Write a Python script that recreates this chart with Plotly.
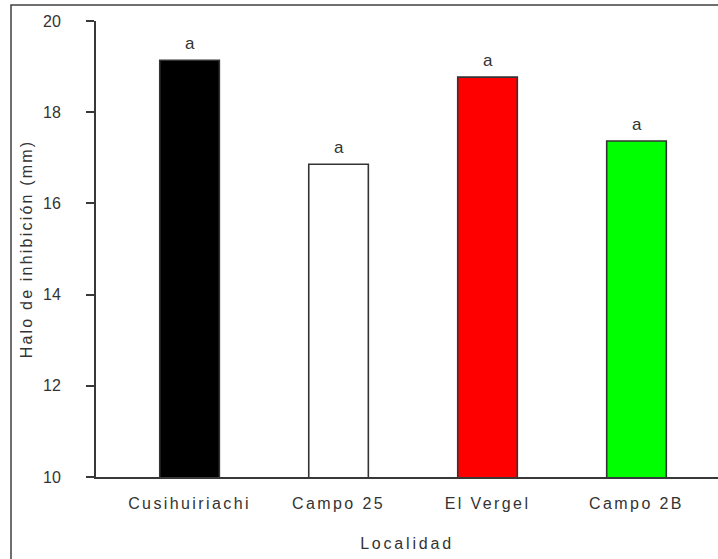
import plotly.graph_objects as go

# Inhibition halo by locality
localidades = ["Cusihuiriachi", "Campo 25", "El Vergel", "Campo 2B"]
halo_mm = [19.14, 16.86, 18.77, 17.37]
letras = ["a", "a", "a", "a"]
colores = ["#000000", "#ffffff", "#ff0000", "#00ff00"]

W, H = 718, 559
M_L, M_R, M_T, M_B = 96, 0, 21, 82
FONT = "Liberation Sans, Arial, sans-serif"
INK = "#333333"

fig = go.Figure(
    go.Bar(
        x=localidades,
        y=halo_mm,
        width=0.4,
        marker=dict(color=colores, line=dict(color="#333333", width=1.6)),
        hoverinfo="x+y",
    )
)

for loc, val, txt in zip(localidades, halo_mm, letras):
    fig.add_annotation(
        x=loc, y=val, text=txt, showarrow=False,
        yanchor="bottom", yshift=5,
        font=dict(family=FONT, size=17, color=INK),
    )

# Outer frame (left and top edges visible within the page)
pw, ph = W - M_L - M_R, H - M_T - M_B
fig.add_shape(
    type="rect", xref="paper", yref="paper",
    x0=(11 - M_L) / pw, x1=1.2,
    y0=-0.5, y1=1 + (M_T - 5) / ph,
    line=dict(color="#404040", width=1.5),
    fillcolor="rgba(0,0,0,0)", layer="below",
)

fig.update_layout(
    width=W, height=H,
    margin=dict(l=M_L, r=M_R, t=M_T, b=M_B),
    paper_bgcolor="white", plot_bgcolor="white",
    showlegend=False,
    font=dict(family=FONT, size=16, color=INK),
    xaxis=dict(
        range=[-0.628, 3.547],
        showline=True, linecolor="#383838", linewidth=2,
        ticks="", showgrid=False, zeroline=False,
        tickfont=dict(family=FONT, size=16, color=INK),
        ticklabelstandoff=11,
        title=dict(text="Localidad", standoff=27,
                   font=dict(family=FONT, size=16, color=INK)),
    ),
    yaxis=dict(
        range=[10, 20], tickvals=[10, 12, 14, 16, 18, 20],
        showline=True, linecolor="#383838", linewidth=2,
        ticks="outside", ticklen=8, tickwidth=2, tickcolor="#383838",
        showgrid=False, zeroline=False,
        tickfont=dict(family=FONT, size=16, color=INK),
        ticklabelstandoff=22,
        title=dict(text="Halo de inhibición (mm)", standoff=6,
                   font=dict(family=FONT, size=16, color=INK)),
    ),
)

# Wider letter spacing on the axis texts
post = """
var gd = document.getElementById('{plot_id}');
function sp(sel, v) {
  gd.querySelectorAll(sel).forEach(function(t){ t.setAttribute('letter-spacing', v); });
}
sp('.xtick text', '2.4px');
sp('.g-xtitle text', '2.8px');
sp('.g-ytitle text', '2.2px');
"""

fig.write_html("out.html", post_script=post)
